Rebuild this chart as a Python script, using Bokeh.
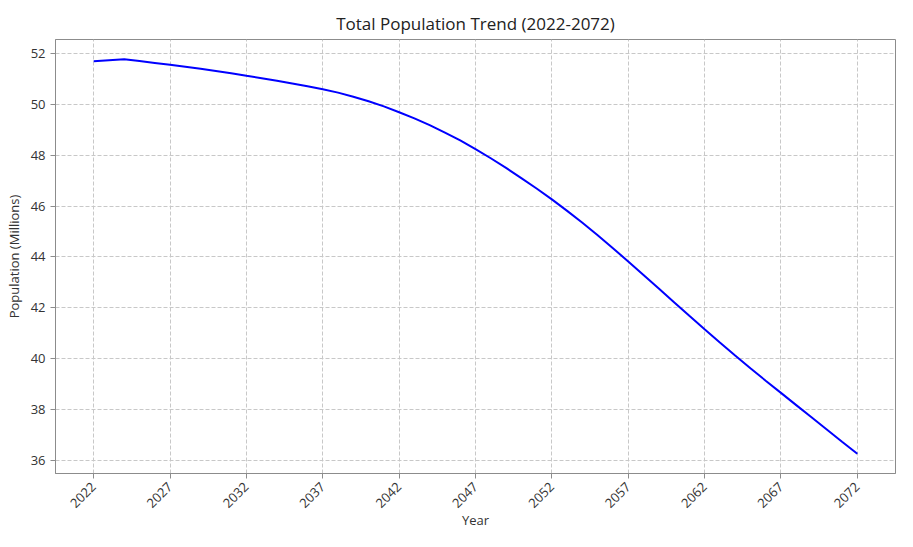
import math
from bokeh.plotting import figure
from bokeh.models import Range1d, FixedTicker
from bokeh.embed import file_html
from bokeh.resources import INLINE

years = list(range(2022, 2073))
population = [
    51.69, 51.73, 51.77, 51.70, 51.63, 51.56, 51.48, 51.40, 51.31, 51.22,
    51.12, 51.03, 50.93, 50.82, 50.71, 50.59, 50.46, 50.30, 50.12, 49.92,
    49.69, 49.45, 49.18, 48.89, 48.58, 48.24, 47.88, 47.50, 47.10, 46.69,
    46.26, 45.81, 45.34, 44.85, 44.34, 43.82, 43.29, 42.76, 42.22, 41.68,
    41.15, 40.63, 40.12, 39.62, 39.13, 38.65, 38.17, 37.69, 37.21, 36.73,
    36.26,
]
x_ticks = list(range(2022, 2073, 5))
y_ticks = [36, 38, 40, 42, 44, 46, 48, 50, 52]

FONT = "Open Sans"

p = figure(width=897, height=531, output_backend="svg", toolbar_location=None,
           x_range=Range1d(2019.5, 2074.5), y_range=Range1d(35.48, 52.55),
           min_border_left=55, min_border_right=2, min_border_top=39,
           min_border_bottom=50, background_fill_color="white",
           border_fill_color="white")

p.title.text = "Total Population Trend (2022-2072)"
p.title.align = "center"
p.title.text_font = FONT
p.title.text_font_size = "17px"
p.title.text_font_style = "normal"
p.title.text_color = "#222222"

p.outline_line_color = "#8c8c8c"
p.outline_line_width = 1

for ax in (p.xaxis[0], p.yaxis[0]):
    ax.axis_line_color = "#8c8c8c"
    ax.major_tick_line_color = "#8c8c8c"
    ax.major_tick_out = 5
    ax.major_tick_in = 0
    ax.minor_tick_line_color = None
    ax.major_label_text_font = FONT
    ax.major_label_text_font_size = "13px"
    ax.major_label_text_color = "#333333"
    ax.axis_label_text_font = FONT
    ax.axis_label_text_font_size = "13px"
    ax.axis_label_text_font_style = "normal"
    ax.axis_label_text_color = "#333333"

p.xaxis.ticker = FixedTicker(ticks=x_ticks)
p.yaxis.ticker = FixedTicker(ticks=y_ticks)
p.xaxis.major_label_orientation = math.pi / 4
p.xaxis.major_label_standoff = 6
p.xaxis.axis_label_standoff = -4
p.xaxis.axis_label = "Year"
p.yaxis.axis_label = "Population (Millions)"

for g in (p.xgrid[0], p.ygrid[0]):
    g.grid_line_color = "#c8c8c8"
    g.grid_line_dash = "4 2"
    g.grid_line_width = 1

p.line(years, population, line_color="blue", line_width=2)

open("out.html", "w").write(file_html(p, INLINE))
